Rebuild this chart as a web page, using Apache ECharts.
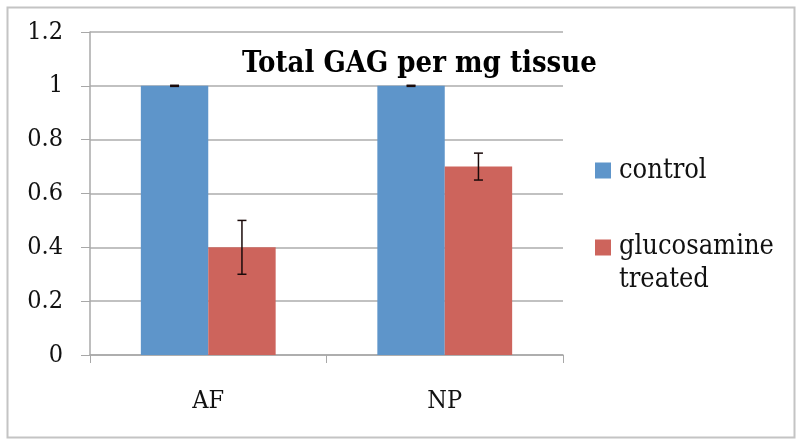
<!DOCTYPE html>
<html>
<head>
<meta charset="utf-8">
<script src="https://cdn.jsdelivr.net/npm/echarts@6/dist/echarts.min.js"></script>
<style>html,body{margin:0;padding:0;background:#fff}#c{width:800px;height:441px}</style>
</head>
<body>
<div id="c"></div>
<script>
const categories = ['AF', 'NP'];
const controlValues = [1, 1];
const controlErrors = [0.002, 0.002];
const treatedValues = [0.4, 0.7];
const treatedErrors = [0.1, 0.05];
const seriesNames = ['control', 'glucosamine treated'];
const yTicks = { min: 0, max: 1.2, interval: 0.2 };
const titleText = 'Total GAG per mg tissue';

const FONT = '"DejaVu Serif Condensed", "DejaVu Serif", serif';
const BLUE = '#5E95CA';
const RED = '#CD645C';
const CAT_GAP = 0.43;

function errorSeries(values, errors, sideIndex) {
  return {
    type: 'custom',
    name: seriesNames[sideIndex] + ' error',
    z: 10,
    silent: true,
    data: values.map((v, i) => [i, v - errors[i], v + errors[i]]),
    renderItem: function (params, api) {
      const band = api.size([1, 0])[0];
      const barW = band * (1 - CAT_GAP) / 2;
      const off = sideIndex === 0 ? -barW / 2 : barW / 2;
      const lo = api.coord([api.value(0), api.value(1)]);
      const hi = api.coord([api.value(0), api.value(2)]);
      const x = lo[0] + off;
      const cap = 4.5;
      const style = { stroke: '#1a0a0a', lineWidth: 1.5, fill: null };
      return {
        type: 'group',
        children: [
          { type: 'line', shape: { x1: x, y1: lo[1], x2: x, y2: hi[1] }, style: style },
          { type: 'line', shape: { x1: x - cap, y1: lo[1], x2: x + cap, y2: lo[1] }, style: style },
          { type: 'line', shape: { x1: x - cap, y1: hi[1], x2: x + cap, y2: hi[1] }, style: style }
        ]
      };
    }
  };
}

const chart = echarts.init(document.getElementById('c'), null, { renderer: 'canvas' });
chart.setOption({
  animation: false,
  backgroundColor: '#fff',
  graphic: [{
    type: 'rect', left: 5, top: 5, z: -1,
    shape: { width: 787, height: 430 },
    style: { fill: 'none', stroke: '#c4c4c4', lineWidth: 2 }
  }],
  title: {
    text: titleText, left: 237, top: 45,
    textStyle: { fontFamily: FONT, fontWeight: 'bold', fontSize: 29, color: '#000' }
  },
  legend: {
    orient: 'vertical', left: 590, top: 141,
    data: [
      { name: seriesNames[0], icon: 'path://M0,16.5H16V32.5H0Z M0,0H0.01Z M19,49H19.01Z' },
      { name: seriesNames[1], icon: 'path://M0,0H16V16H0Z M19,49H19.01Z' }
    ],
    itemWidth: 19, itemHeight: 49, itemGap: 36,
    formatter: n => n.replace(' ', '\n'),
    textStyle: { fontFamily: FONT, fontSize: 27, color: '#111', lineHeight: 33 }
  },
  grid: { left: 90, right: 237, top: 32, bottom: 86, containLabel: false },
  xAxis: {
    type: 'category', data: categories,
    axisLine: { lineStyle: { color: '#a8a8a8', width: 1.5 } },
    axisTick: { show: true, length: 8, alignWithLabel: false, lineStyle: { color: '#a8a8a8' } },
    axisLabel: { fontFamily: FONT, fontSize: 25, color: '#111', margin: 34 }
  },
  yAxis: {
    type: 'value', min: yTicks.min, max: yTicks.max, interval: yTicks.interval,
    axisLine: { show: true, lineStyle: { color: '#a8a8a8', width: 1.5 } },
    axisTick: { show: true, length: 9, lineStyle: { color: '#a8a8a8' } },
    splitLine: { lineStyle: { color: '#acacac', width: 1.5 } },
    axisLabel: { fontFamily: FONT, fontSize: 25, color: '#111', margin: 27 }
  },
  series: [
    { name: seriesNames[0], type: 'bar', data: controlValues, itemStyle: { color: BLUE },
      barGap: '0%', barCategoryGap: (CAT_GAP * 100) + '%' },
    { name: seriesNames[1], type: 'bar', data: treatedValues, itemStyle: { color: RED },
      barGap: '0%', barCategoryGap: (CAT_GAP * 100) + '%' },
    errorSeries(controlValues, controlErrors, 0),
    errorSeries(treatedValues, treatedErrors, 1)
  ]
});
</script>
</body>
</html>
